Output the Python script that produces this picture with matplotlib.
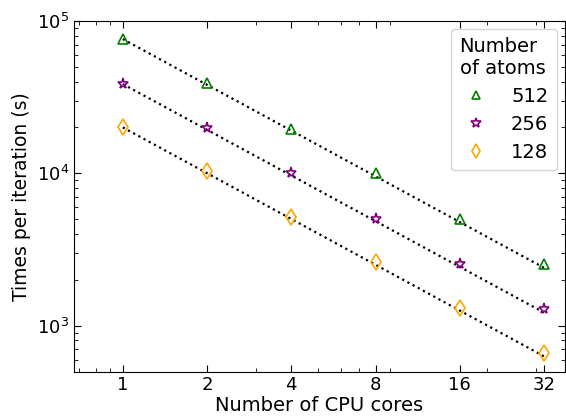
import numpy as np
import matplotlib
matplotlib.use("Agg")
import matplotlib.pyplot as plt
from matplotlib.ticker import FixedLocator, FixedFormatter, NullFormatter

cores = [1, 2, 4, 8, 16, 32]
core_labels = ["1", "2", "4", "8", "16", "32"]

# measured times per iteration (s)
t_512 = [76000, 39000, 19500, 10000, 5000, 2550]
t_256 = [38500, 19800, 10000, 5000, 2550, 1280]
t_128 = [20000, 10300, 5200, 2600, 1300, 660]

# dotted reference lines (start / end values)
line_x = [1, 32]
line_512 = [76000, 2400]
line_256 = [38500, 1220]
line_128 = [20000, 630]

fig = plt.figure(figsize=(5.66, 4.18), dpi=100)
ax = fig.add_axes([0.131, 0.111, 0.867, 0.839])

ax.plot(line_x, line_512, 'k:', lw=1.6)
ax.plot(line_x, line_256, 'k:', lw=1.6)
ax.plot(line_x, line_128, 'k:', lw=1.6)

ax.plot(cores, t_512, ls='none', marker='^', ms=7, mfc='none', mec='green', mew=1.2, label='512')
ax.plot(cores, t_256, ls='none', marker='*', ms=8, mfc='none', mec='purple', mew=1.2, label='256')
ax.plot(cores, t_128, ls='none', marker='d', ms=8, mfc='none', mec='orange', mew=1.2, label='128')

ax.set_xscale('log')
ax.set_yscale('log')
ax.set_xlim(0.67, 38)
ax.set_ylim(500, 1e5)
ax.xaxis.set_major_locator(FixedLocator(cores))
ax.xaxis.set_major_formatter(FixedFormatter(core_labels))
ax.xaxis.set_minor_formatter(NullFormatter())

ax.tick_params(which='both', direction='in', top=True, right=True, labelsize=13)
ax.tick_params(which='major', length=5)
ax.tick_params(which='minor', length=3)

ax.set_xlabel('Number of CPU cores', fontsize=14, labelpad=1)
ax.set_ylabel('Times per iteration (s)', fontsize=13.5, labelpad=4)

leg = ax.legend(title='Number\nof atoms', loc='upper right', fontsize=14,
                title_fontsize=14, handletextpad=1.0, borderpad=0.45,
                labelspacing=0.45, markerscale=0.9, handlelength=1.65,
                borderaxespad=0.4)
leg._legend_box.align = 'left'

fig.savefig('out.png', dpi=100)
